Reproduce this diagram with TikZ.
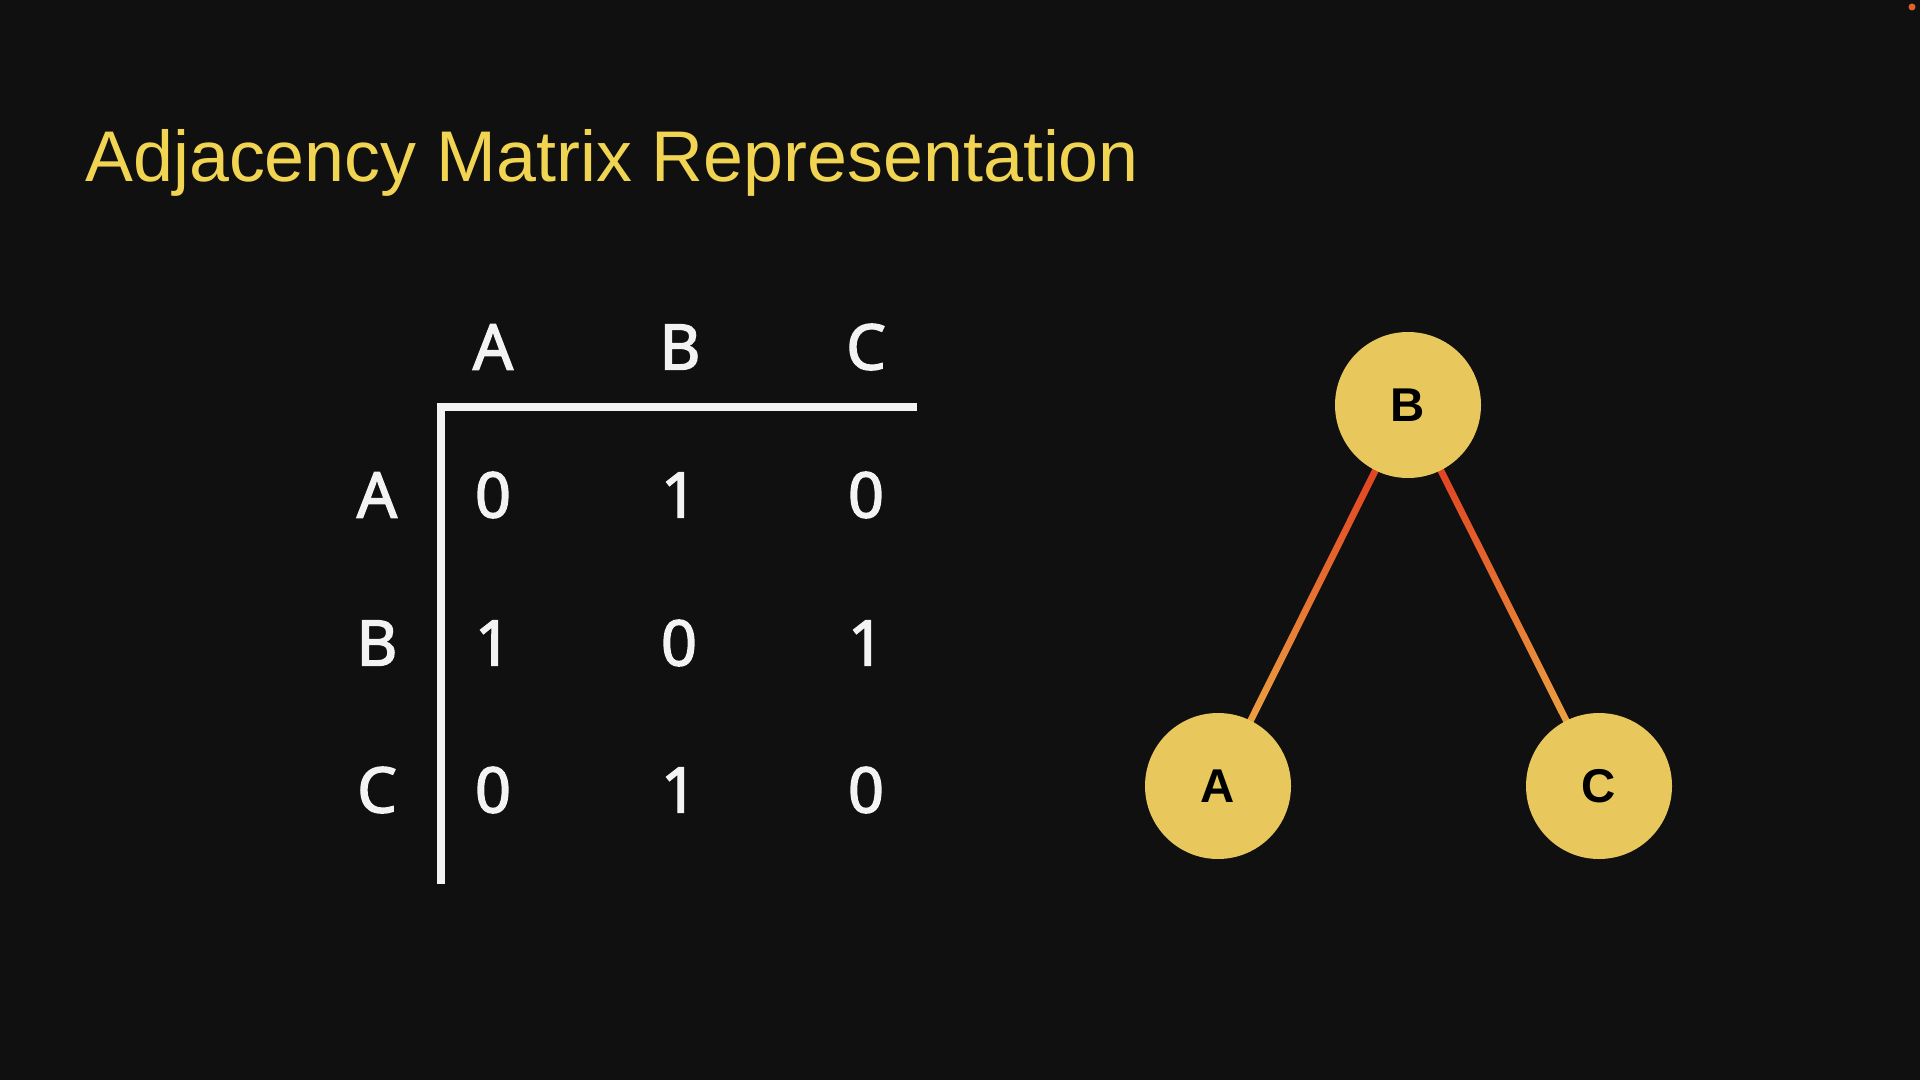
\documentclass[tikz,border=0pt]{standalone}
\usepackage{fontspec}
\setmainfont{Liberation Sans}
\newfontfamily\mfont{Noto Sans}[FakeBold=2.2]
\newfontfamily\nfont{Liberation Sans}
\usetikzlibrary{calc,backgrounds}
\definecolor{bgc}{RGB}{16,16,16}
\definecolor{titlec}{RGB}{240,212,82}
\definecolor{cellc}{RGB}{243,243,243}
\definecolor{nodec}{RGB}{232,200,92}
\definecolor{edgetop}{RGB}{222,44,26}
\definecolor{edgebot}{RGB}{238,184,74}
\definecolor{dotc}{RGB}{222,100,40}
\begin{document}
\begin{tikzpicture}[x=0.5pt,y=-0.5pt,
  cell/.style={text=cellc,font=\mfont\fontsize{31.5}{36}\selectfont,inner sep=0pt},
  vert/.style={circle,fill=nodec,minimum size=73pt,inner sep=0pt,
    font=\nfont\bfseries\fontsize{23.7}{28}\selectfont,text=black},
  matrule/.style={draw=cellc,line width=3.8pt,line join=miter},
  edge/.style={top color=edgetop,bottom color=edgebot,draw=none},
]
\useasboundingbox (0,0) rectangle (1920,1080);
% title
\node[anchor=base west,inner sep=0pt,text=titlec,font=\fontsize{35.9}{40}\selectfont]
  (title) at (85,182) {Adjacency Matrix Representation};
% matrix headers
\node[cell] (hA) at (493,347) {A};
\node[cell] (hB) at (680,347) {B};
\node[cell] (hC) at (866,347) {C};
\node[cell] (rA) at (377,495) {A};
\node[cell] (rB) at (377,643) {B};
\node[cell] (rC) at (377,790) {C};
% cells
\node[cell] (c11) at (493,495) {0};
\node[cell] (c12) at (679,495) {1};
\node[cell] (c13) at (866,495) {0};
\node[cell] (c21) at (493,643) {1};
\node[cell] (c22) at (679,643) {0};
\node[cell] (c23) at (866,643) {1};
\node[cell] (c31) at (493,790) {0};
\node[cell] (c32) at (679,790) {1};
\node[cell] (c33) at (866,790) {0};
% rules
\coordinate (rbot) at (441,884);
\coordinate (rcorner) at (441,407);
\coordinate (rright) at (917,407);
\draw[matrule] (rbot) -- (rcorner) -- (rright);
% graph
\node[vert] (B) at (1408,405) {B};
\node[vert] (A) at (1218,786) {A};
\node[vert] (C) at (1599,786) {C};
% corner dot
\node[circle,fill=dotc,inner sep=0pt,minimum size=3.5pt] (dot) at (1912,7) {};
\begin{pgfonlayer}{background}
\fill[bgc] (0,0) rectangle (1920,1080);
\fill[edge] ($(B.center)!1.7pt!90:(A.center)$) -- ($(B.center)!1.7pt!-90:(A.center)$)
  -- ($(A.center)!1.7pt!90:(B.center)$) -- ($(A.center)!1.7pt!-90:(B.center)$) -- cycle;
\fill[edge] ($(B.center)!1.7pt!90:(C.center)$) -- ($(B.center)!1.7pt!-90:(C.center)$)
  -- ($(C.center)!1.7pt!90:(B.center)$) -- ($(C.center)!1.7pt!-90:(B.center)$) -- cycle;
\end{pgfonlayer}
\end{tikzpicture}
\end{document}
